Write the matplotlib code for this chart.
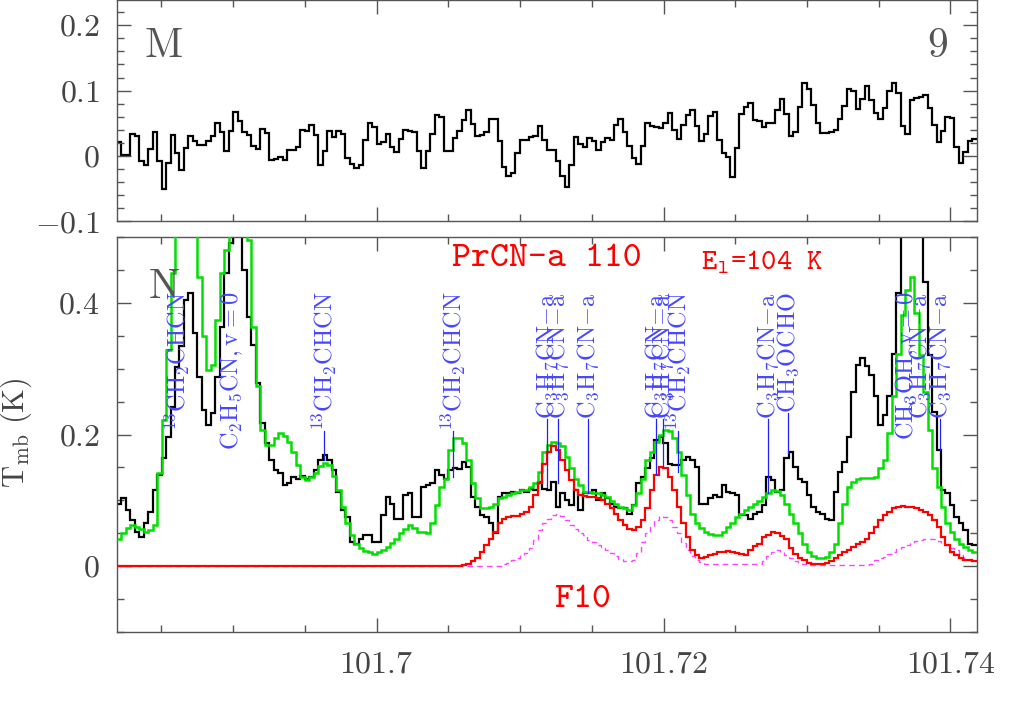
import numpy as np
import matplotlib
matplotlib.use('Agg')
import matplotlib.pyplot as plt
from matplotlib.ticker import MultipleLocator, FuncFormatter

plt.rcParams['mathtext.fontset'] = 'cm'
plt.rcParams['font.family'] = ['cmr10', 'DejaVu Serif']
plt.rcParams['axes.formatter.use_mathtext'] = True

# channel grid (GHz)
f_start = 101.681895
chan_w = 0.0003122
n_chan = 192

# top panel (M): residual spectrum
top_obs = [0.021, 0.002, 0.002, 0.033, 0.031, -0.007, -0.014, 0.011, 0.036, -0.007,
           -0.050, -0.010, 0.032, 0.004, -0.021, 0.012, 0.031, 0.023, 0.017, 0.017,
           0.023, 0.031, 0.050, 0.037, 0.007, 0.039, 0.067, 0.053, 0.036, 0.032,
           0.015, 0.011, 0.042, 0.035, -0.006, -0.004, -0.002, -0.006, 0.009, 0.010,
           0.014, 0.040, 0.039, 0.048, 0.032, -0.014, 0.007, 0.039, 0.029, 0.039,
           0.034, -0.003, -0.012, -0.018, -0.014, 0.024, 0.050, 0.044, 0.019, 0.022,
           0.033, 0.014, 0.006, 0.026, 0.040, 0.038, 0.037, 0.008, -0.018, 0.008,
           0.034, 0.063, 0.060, 0.008, 0.008, 0.028, 0.039, 0.055, 0.070, 0.049,
           0.031, 0.032, 0.037, 0.057, 0.057, 0.023, -0.016, -0.030, -0.026, 0.005,
           0.024, 0.025, 0.029, 0.031, 0.046, 0.025, 0.009, 0.010, -0.007, -0.031,
           -0.047,
           -0.013, 0.029, 0.019, 0.014, 0.027, 0.023, 0.009, 0.021, 0.028, 0.024,
           0.048, 0.056, 0.036, 0.016, -0.003, -0.012, 0.016, 0.050, 0.046, 0.044,
           0.043, 0.050, 0.066, 0.040, 0.026, 0.047, 0.063, 0.071, 0.046, 0.023,
           0.033, 0.061, 0.068, 0.024, 0.005, -0.002, -0.032, 0.012, 0.064, 0.075,
           0.081, 0.055, 0.053, 0.044, 0.050, 0.050, 0.070, 0.087, 0.065, 0.031,
           0.037, 0.075, 0.111, 0.102, 0.078, 0.050, 0.035, 0.035, 0.036, 0.040,
           0.056, 0.077, 0.102, 0.100, 0.072, 0.087, 0.107, 0.086, 0.066, 0.057,
           0.073, 0.099, 0.112, 0.096, 0.046, 0.034, 0.086, 0.088, 0.091, 0.093,
           0.074, 0.047, 0.022, 0.039, 0.059, 0.058, 0.014, -0.010, 0.006, 0.023,
           0.026]

# bottom panel (N): observed spectrum
obs = [0.094, 0.104, 0.085, 0.070, 0.052, 0.045, 0.065, 0.083, 0.116, 0.138,
       0.164, 0.197, 0.242, 0.303, 0.334, 0.405, 0.415, 0.354, 0.288, 0.237,
       0.214, 0.232, 0.288, 0.364, 0.445, 0.491, 0.560, 0.580, 0.450, 0.379,
       0.336, 0.278, 0.217, 0.187, 0.161, 0.146, 0.141, 0.123, 0.126, 0.136,
       0.133, 0.137, 0.133, 0.136, 0.146, 0.161, 0.169, 0.161, 0.146, 0.113,
       0.085, 0.075, 0.037, 0.034, 0.042, 0.047, 0.047, 0.037, 0.037, 0.078,
       0.105, 0.095, 0.072, 0.072, 0.108,
       0.111, 0.075, 0.075, 0.121, 0.123, 0.126, 0.146, 0.138, 0.133, 0.146,
       0.149, 0.147, 0.159, 0.151, 0.105, 0.090, 0.078, 0.075, 0.065, 0.050,
       0.105, 0.111, 0.111, 0.113, 0.111, 0.116, 0.113, 0.118, 0.116, 0.128,
       0.118, 0.116, 0.128, 0.090, 0.111, 0.100, 0.093, 0.116, 0.085, 0.111,
       0.111, 0.116, 0.100, 0.111, 0.103, 0.095, 0.090, 0.088, 0.088, 0.080,
       0.093, 0.126, 0.136, 0.149, 0.164, 0.192, 0.197, 0.187, 0.156, 0.154,
       0.154, 0.161, 0.166, 0.161, 0.151,
       0.095, 0.095, 0.103, 0.108, 0.105, 0.123, 0.113, 0.111, 0.108, 0.078,
       0.078, 0.071, 0.080, 0.083, 0.093, 0.136, 0.131, 0.113, 0.116, 0.164,
       0.174, 0.151, 0.133, 0.128, 0.108, 0.090, 0.083, 0.080, 0.071, 0.070,
       0.113, 0.143, 0.159, 0.197, 0.265, 0.306, 0.316, 0.304, 0.290, 0.258,
       0.214, 0.229, 0.258, 0.323, 0.415, 0.600, 0.700, 0.750, 0.700, 0.600,
       0.432, 0.321, 0.234, 0.176, 0.116, 0.111, 0.093, 0.075, 0.065, 0.055,
       0.034, 0.032]

# full model (all species)
model_all = [0.042, 0.050, 0.058, 0.062, 0.060, 0.056, 0.052, 0.055, 0.062, 0.141,
             0.222, 0.329, 0.445, 0.600, 0.700, 0.750, 0.750, 0.700, 0.440, 0.349,
             0.298, 0.306, 0.374, 0.445, 0.481, 0.520, 0.600, 0.600, 0.600, 0.496,
             0.364, 0.273, 0.207, 0.184, 0.184, 0.194, 0.202, 0.198, 0.189, 0.174,
             0.154, 0.136, 0.131, 0.136, 0.142, 0.152, 0.157, 0.153, 0.137, 0.116,
             0.090, 0.065, 0.047, 0.034, 0.027, 0.023, 0.021, 0.019, 0.021, 0.024,
             0.029, 0.035, 0.042, 0.050, 0.057,
             0.062, 0.058, 0.052, 0.052, 0.050, 0.065, 0.093, 0.121, 0.133, 0.176,
             0.194, 0.194, 0.187, 0.161, 0.126, 0.103, 0.088, 0.088, 0.090, 0.095,
             0.103, 0.105, 0.108, 0.111, 0.113, 0.115, 0.116, 0.120, 0.126, 0.143,
             0.174, 0.184, 0.189, 0.187, 0.182, 0.166, 0.149, 0.133, 0.123, 0.113,
             0.112, 0.111, 0.111, 0.108, 0.105, 0.099, 0.095, 0.090, 0.088, 0.086,
             0.093, 0.111, 0.133, 0.161, 0.174, 0.189, 0.199, 0.207, 0.205, 0.194,
             0.174, 0.138, 0.108, 0.080, 0.065,
             0.058, 0.052, 0.049, 0.047, 0.047, 0.052, 0.060, 0.066, 0.074, 0.080,
             0.085, 0.090, 0.095, 0.099, 0.105, 0.111, 0.116, 0.114, 0.108, 0.095,
             0.080, 0.065, 0.050, 0.034, 0.022, 0.015, 0.012, 0.012, 0.014, 0.022,
             0.034, 0.065, 0.095, 0.121, 0.128, 0.133, 0.134, 0.134, 0.134, 0.136,
             0.149, 0.161, 0.202, 0.258, 0.323, 0.382, 0.420, 0.440, 0.385, 0.321,
             0.265, 0.207, 0.149, 0.121, 0.090, 0.065, 0.052, 0.042, 0.034, 0.029,
             0.025, 0.022]

# PrCN-a model
model_prcn = [0.0] * 77 + [
    0.002, 0.004, 0.008, 0.013, 0.022, 0.032, 0.042, 0.052, 0.065, 0.072,
    0.075, 0.076, 0.077, 0.080, 0.083, 0.090, 0.108, 0.126, 0.156, 0.174,
    0.182, 0.176, 0.161, 0.146, 0.131, 0.116, 0.108, 0.106, 0.105, 0.105,
    0.103, 0.100, 0.095, 0.088, 0.080, 0.070, 0.062, 0.056, 0.055, 0.060,
    0.070, 0.088, 0.116, 0.138, 0.151, 0.149, 0.136, 0.116, 0.090, 0.065,
    0.045, 0.024, 0.017, 0.013, 0.014, 0.017, 0.019, 0.022,
    0.022, 0.023, 0.022, 0.020, 0.018, 0.017, 0.024, 0.030, 0.034, 0.045,
    0.048, 0.052, 0.051, 0.046, 0.042, 0.027, 0.019, 0.013, 0.009, 0.005,
    0.004, 0.003, 0.003, 0.005, 0.008, 0.012, 0.017, 0.022, 0.025, 0.029,
    0.033, 0.037, 0.042, 0.050, 0.060, 0.070, 0.078, 0.083, 0.088, 0.090,
    0.091, 0.090, 0.090, 0.089, 0.086, 0.083, 0.078, 0.070, 0.060, 0.045,
    0.032, 0.022, 0.017, 0.013, 0.010, 0.009, 0.008]

# PrCN-a model, other component (dashed)
model_prcn2 = [0.0] * 85 + [
    0.001, 0.003, 0.005, 0.009, 0.012, 0.017, 0.020, 0.027, 0.040, 0.055,
    0.065, 0.072, 0.078, 0.080, 0.077, 0.070, 0.062, 0.057, 0.050, 0.047,
    0.040, 0.037, 0.032, 0.029, 0.024, 0.020, 0.015, 0.011, 0.008, 0.008,
    0.010, 0.020, 0.037, 0.050, 0.060, 0.070, 0.077, 0.075, 0.070, 0.060,
    0.050, 0.035, 0.025, 0.015, 0.010, 0.006, 0.004, 0.003, 0.003, 0.004,
    0.004, 0.003, 0.003, 0.003, 0.003, 0.003, 0.003, 0.003, 0.004, 0.008,
    0.015, 0.022, 0.024, 0.022, 0.017, 0.012, 0.008, 0.005, 0.003, 0.002,
    0.0015, 0.0015, 0.0015, 0.0015, 0.0015, 0.0015, 0.0015, 0.0015, 0.0015, 0.0015,
    0.0015, 0.0015, 0.0015, 0.004, 0.009, 0.012, 0.014, 0.018, 0.022, 0.026,
    0.029, 0.032, 0.035, 0.038, 0.040, 0.042, 0.042, 0.041, 0.038, 0.035,
    0.032, 0.028, 0.024, 0.017, 0.012, 0.010, 0.009]

# line identifications
line_names = [r'$\mathrm{^{13}CH_2CHCN}$', r'$\mathrm{C_2H_5CN,v{=}0}$',
              r'$\mathrm{^{13}CH_2CHCN}$', r'$\mathrm{^{13}CH_2CHCN}$',
              r'$\mathrm{C_3H_7CN{-}a}$', r'$\mathrm{C_3H_7CN{-}a}$',
              r'$\mathrm{C_3H_7CN{-}a}$', r'$\mathrm{C_3H_7CN{-}a}$',
              r'$\mathrm{C_3H_7CN{-}a}$', r'$\mathrm{^{13}CH_2CHCN}$',
              r'$\mathrm{C_3H_7CN{-}a}$', r'$\mathrm{CH_3OCHO}$',
              r'$\mathrm{CH_3OH,v{=}0}$', r'$\mathrm{C_3H_7CN{-}a}$',
              r'$\mathrm{C_3H_7CN{-}a}$']
line_freqs = [101.68609, 101.68993, 101.69634, 101.70533, 101.71188, 101.71265,
              101.71474, 101.71948, 101.71997, 101.72101, 101.72728, 101.72868,
              101.73697, 101.73788, 101.73927]
tick_low = [None, None, 0.161, 0.135, 0.120, 0.126, 0.111, 0.14, 0.15, 0.143,
            0.111, 0.172, None, None, 0.176]

edges = f_start + chan_w * np.arange(n_chan + 1)

fig = plt.figure(figsize=(10.25, 7.17), dpi=100)
ax1 = fig.add_axes([0.1137, 0.6911, 0.8395, 0.3089])
ax2 = fig.add_axes([0.1137, 0.1185, 0.8395, 0.5509])

xlim = (101.68188, 101.74185)
gray = '#555555'

def fmt(v, pos):
    s = '%g' % round(v, 4)
    return r'$%s$' % s

for ax in (ax1, ax2):
    ax.set_xlim(*xlim)
    ax.xaxis.set_major_locator(MultipleLocator(0.02))
    ax.xaxis.set_minor_locator(MultipleLocator(0.005))
    ax.tick_params(which='both', direction='in', top=True, right=True,
                   color=gray, labelcolor='#444444', labelsize=23)
    ax.tick_params(which='major', length=10, width=1.0)
    ax.tick_params(which='minor', length=5, width=1.0)
    ax.tick_params(axis='y', pad=12)
    for sp in ax.spines.values():
        sp.set_color(gray)
        sp.set_linewidth(1.0)
    ax.yaxis.set_major_formatter(FuncFormatter(fmt))
    ax.xaxis.set_major_formatter(FuncFormatter(fmt))

# top panel
ax1.stairs(top_obs, edges, baseline=None, color='black', lw=1.6)
ax1.set_ylim(-0.1, 0.2385)
ax1.yaxis.set_major_locator(MultipleLocator(0.1))
ax1.yaxis.set_minor_locator(MultipleLocator(0.02))
ax1.tick_params(labelbottom=False)
ax1.text(0.033, 0.79, 'M', transform=ax1.transAxes, fontsize=30, color=gray,
         ha='left', va='center')
ax1.text(0.966, 0.79, '9', transform=ax1.transAxes, fontsize=30, color=gray,
         ha='right', va='center')

# bottom panel
ax2.stairs(obs, edges, baseline=None, color='black', lw=1.6, zorder=2)
ax2.stairs(model_all, edges, baseline=None, color='#00e000', lw=1.8, zorder=3)
ax2.stairs(model_prcn, edges, baseline=None, color='#ff0000', lw=1.6, zorder=4)
ax2.stairs(model_prcn2, edges, baseline=None, color='#ff44ff', lw=1.0,
           linestyle=(0, (4, 3)), zorder=3.5)
ax2.set_ylim(-0.1, 0.5)
ax2.yaxis.set_major_locator(MultipleLocator(0.2))
ax2.yaxis.set_minor_locator(MultipleLocator(0.05))
ax2.tick_params(axis='x', pad=14)

ax2.text(0.037, 0.873, 'N', transform=ax2.transAxes, fontsize=30, color=gray,
         ha='left', va='center')
ax2.text(0.5, 0.944, 'PrCN-a 110', transform=ax2.transAxes, fontsize=26,
         color='red', family='cmtt10', ha='center', va='center')
ax2.text(0.75, 0.937, r'$\mathtt{E_l}$=104 K', transform=ax2.transAxes,
         fontsize=21, color='red', family='cmtt10', ha='center', va='center')
ax2.text(0.542, 0.081, 'F10', transform=ax2.transAxes, fontsize=26,
         color='red', family='cmtt10', ha='center', va='center')

fig.text(0.016, 0.397, r'$\mathrm{T_{mb}\ (K)}$', rotation=90, fontsize=22,
         color='#444444', ha='center', va='center')

blue = '#4646ff'
texts = []
for f, name in zip(line_freqs, line_names):
    t = ax2.text(f, 0.417, name, rotation=90, ha='center', va='top',
                 color=blue, fontsize=17.5, zorder=6)
    texts.append(t)

fig.canvas.draw()
rend = fig.canvas.get_renderer()
inv = ax2.transData.inverted()
for t, f, low in zip(texts, line_freqs, tick_low):
    if low is None:
        continue
    bb = t.get_window_extent(rend)
    ytop = inv.transform((bb.x0, bb.y0))[1]
    if low < ytop:
        ax2.plot([f, f], [low, ytop], color='#2020ff', lw=0.9, zorder=6)

fig.savefig('out.png', dpi=100)
